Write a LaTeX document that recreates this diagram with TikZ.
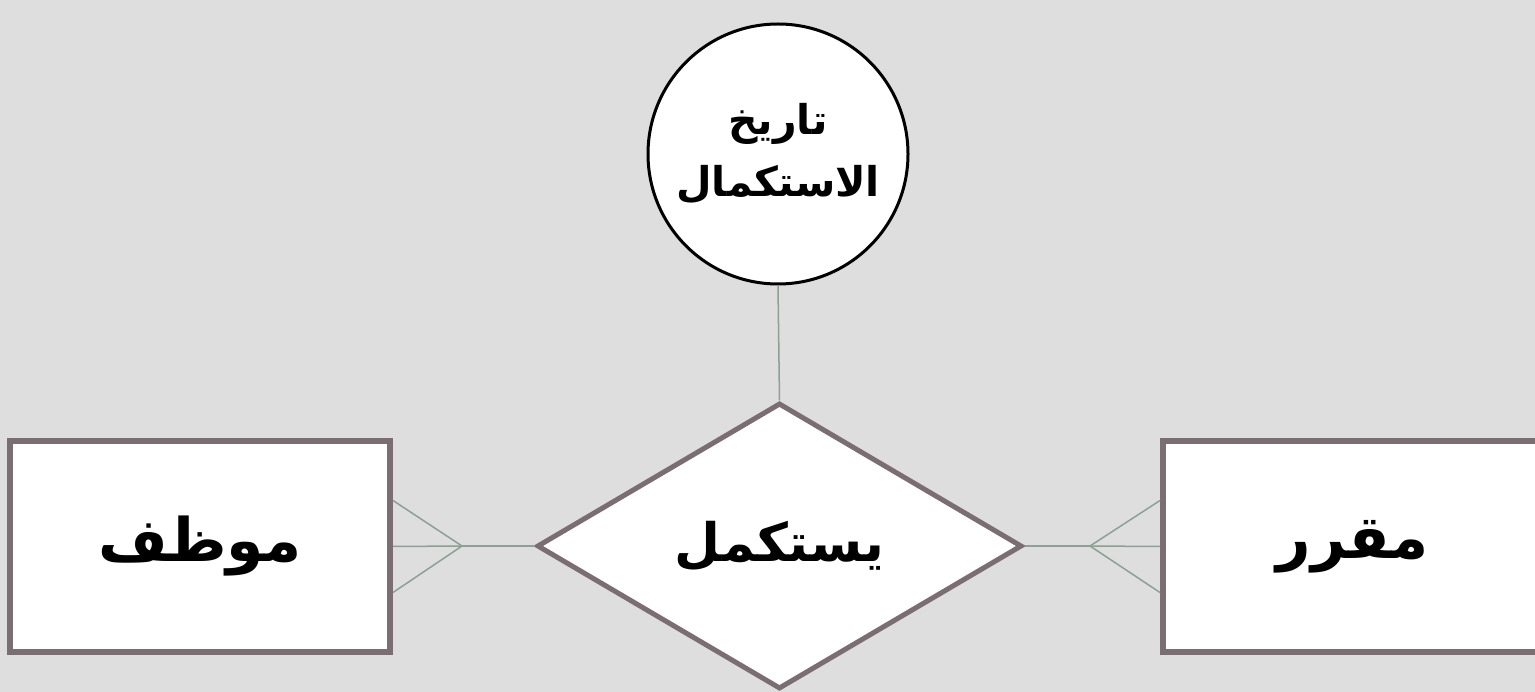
\documentclass[tikz,border=0pt]{standalone}
\usepackage{fontspec}
\newfontfamily\arabicfont[Script=Arabic]{DejaVu Sans}
\TeXXeTstate=1
\usetikzlibrary{shapes.geometric,calc}
\definecolor{bg}{RGB}{222,222,222}
\definecolor{boxline}{RGB}{122,110,114}
\definecolor{conn}{RGB}{140,160,150}
\tikzset{
  entity/.style={draw=boxline, line width=6pt, fill=white, rectangle, minimum width=380pt, minimum height=211pt, inner sep=0pt, font=\arabicfont\bfseries\fontsize{60}{70}\selectfont},
  relation/.style={draw=boxline, line width=5pt, fill=white, diamond, minimum width=485pt, minimum height=286pt, inner sep=0pt, font=\arabicfont\bfseries\fontsize{53}{64}\selectfont},
  attrib/.style={draw=black, line width=3pt, fill=white, circle, minimum size=260pt, inner sep=0pt, align=center, font=\arabicfont\bfseries\fontsize{41}{62}\selectfont},
  link/.style={draw=conn, line width=1.5pt}
}
\begin{document}
\begin{tikzpicture}[x=1pt,y=-1pt]
\fill[bg] (0,0) rectangle (1535,692);
\useasboundingbox (0,0) rectangle (1535,692);
\node[attrib] (att) at (778,154) {\beginR تاريخ\endR\\\beginR الاستكمال\endR};
\node[relation] (rel) at (779.5,546) {\beginR يستكمل\endR};
\node[entity] (emp) at (200,546.5) {\beginR موظف\endR};
\node[entity] (crs) at (1353,546.5) {\beginR مقرر\endR};
\coordinate (lfoot) at (462,546);
\coordinate (rfoot) at (1090,546);
\draw[link] (att.south) -- (rel.north);
\draw[link] (rel.west) -- (lfoot);
\draw[link] (lfoot) -- (emp.east);
\draw[link] (lfoot) -- ($(emp.east)+(0,-46)$);
\draw[link] (lfoot) -- ($(emp.east)+(0,46)$);
\draw[link] (rel.east) -- (rfoot);
\draw[link] (rfoot) -- (crs.west);
\draw[link] (rfoot) -- ($(crs.west)+(0,-46)$);
\draw[link] (rfoot) -- ($(crs.west)+(0,46)$);
\end{tikzpicture}
\end{document}
